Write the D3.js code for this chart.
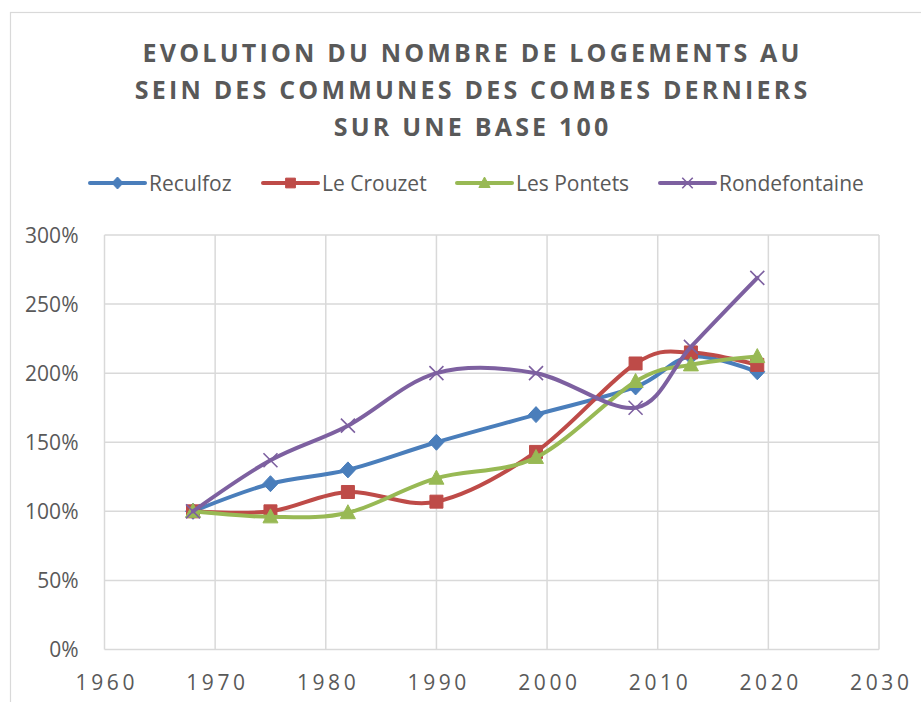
<!DOCTYPE html>
<html>
<head>
<meta charset="utf-8">
<script src="https://cdn.jsdelivr.net/npm/d3@7"></script>
<style>
    body { margin: 0; background: #fff; }
    svg { display: block; font-family: "Open Sans", "Liberation Sans", sans-serif; }
</style>
</head>
<body>
<div id="chart"></div>
<script>
"use strict";

var years = [1968, 1975, 1982, 1990, 1999, 2008, 2013, 2019];
var seriesNames = ["Reculfoz", "Le Crouzet", "Les Pontets", "Rondefontaine"];
var reculfoz = [1.00, 1.20, 1.30, 1.50, 1.70, 1.90, 2.12, 2.01];
var leCrouzet = [1.00, 1.00, 1.14, 1.07, 1.43, 2.07, 2.15, 2.06];
var lesPontets = [1.00, 0.96, 0.99, 1.24, 1.39, 1.94, 2.06, 2.12];
var rondefontaine = [1.00, 1.37, 1.62, 2.00, 2.00, 1.75, 2.19, 2.69];
var xTicks = [1960, 1970, 1980, 1990, 2000, 2010, 2020, 2030];
var yTicks = [0, 0.5, 1, 1.5, 2, 2.5, 3];
var titleLines = ["EVOLUTION DU NOMBRE DE LOGEMENTS AU", "SEIN DES COMMUNES DES COMBES DERNIERS", "SUR UNE BASE 100"];

var W = 921, H = 702,
    colors = ["#4a7ebb", "#be4b48", "#98b954", "#7d60a0"],
    markers = ["diamond", "square", "triangle", "cross"],
    textColor = "#595959",
    gridColor = "#d9d9d9";

var svg = d3.select("#chart")
    .append("svg")
    .attr("width", W)
    .attr("height", H);

// outer chart border, cut off on the right and bottom like the screenshot
svg.append("rect")
    .attr("x", 10.5).attr("y", 12.5)
    .attr("width", 930).attr("height", 720)
    .attr("fill", "none")
    .attr("stroke", gridColor)
    .attr("stroke-width", 1.2);

var x = d3.scaleLinear().domain([1960, 2030]).range([104.5, 879]),
    y = d3.scaleLinear().domain([0, 3]).range([649.5, 235]);

// title
svg.selectAll("text.title")
    .data(titleLines)
    .enter()
    .append("text")
    .attr("class", "title")
    .attr("x", 471)
    .attr("dx", 1.6)
    .attr("y", function (d, i) { return 62 + i * 36.8; })
    .attr("text-anchor", "middle")
    .attr("font-size", 25)
    .attr("font-weight", "bold")
    .attr("letter-spacing", 3.2)
    .attr("fill", textColor)
    .text(function (d) { return d; });

// gridlines
svg.append("g")
    .selectAll("line")
    .data(yTicks)
    .enter()
    .append("line")
    .attr("x1", x(1960)).attr("x2", x(2030))
    .attr("y1", function (d) { return y(d); })
    .attr("y2", function (d) { return y(d); })
    .attr("stroke", gridColor)
    .attr("stroke-width", 1.5);

svg.append("g")
    .selectAll("line")
    .data(xTicks)
    .enter()
    .append("line")
    .attr("x1", function (d) { return x(d); })
    .attr("x2", function (d) { return x(d); })
    .attr("y1", y(0)).attr("y2", y(3))
    .attr("stroke", gridColor)
    .attr("stroke-width", 1.5);

// axis labels
var yAxis = svg.append("g")
    .attr("transform", "translate(" + (x(1960) - 23) + ",0)")
    .call(d3.axisLeft(y).tickValues(yTicks).tickSize(0).tickFormat(d3.format(".0%")));
yAxis.select(".domain").remove();
yAxis.selectAll("text")
    .attr("font-size", 21)
    .attr("font-family", "\"Open Sans\", sans-serif")
    .attr("fill", textColor)
    .attr("dy", "0.35em");

var xAxis = svg.append("g")
    .attr("transform", "translate(0," + (y(0) + 23) + ")")
    .call(d3.axisBottom(x).tickValues(xTicks).tickSize(0).tickFormat(d3.format("d")));
xAxis.select(".domain").remove();
xAxis.selectAll("text")
    .attr("font-size", 21)
    .attr("font-family", "\"Open Sans\", sans-serif")
    .attr("letter-spacing", 3.6)
    .attr("dx", 1.8)
    .attr("fill", textColor)
    .attr("dy", "0.71em");

var markerPath = function (kind, k) {
    var p = d3.path();
    if (kind === "diamond") {
        p.moveTo(0, -8 * k); p.lineTo(7.5 * k, 0); p.lineTo(0, 8 * k); p.lineTo(-7.5 * k, 0); p.closePath();
    } else if (kind === "square") {
        p.rect(-6.5 * k, -6.5 * k, 13 * k, 13 * k);
    } else if (kind === "triangle") {
        p.moveTo(0, -8 * k); p.lineTo(7.5 * k, 6 * k); p.lineTo(-7.5 * k, 6 * k); p.closePath();
    } else {
        p.moveTo(-7 * k, -7 * k); p.lineTo(7 * k, 7 * k);
        p.moveTo(-7 * k, 7 * k); p.lineTo(7 * k, -7 * k);
    }
    return p.toString();
};

var drawMarker = function (g, kind, color, k) {
    var p = g.append("path").attr("d", markerPath(kind, k));
    if (kind === "cross") {
        p.attr("fill", "none").attr("stroke", color).attr("stroke-width", 1.6);
    } else {
        p.attr("fill", color).attr("stroke", color).attr("stroke-width", 1);
    }
};

var allSeries = [reculfoz, leCrouzet, lesPontets, rondefontaine];

// Excel style smoothed line
var line = d3.line()
    .x(function (d, i) { return x(years[i]); })
    .y(function (d) { return y(d); })
    .curve(d3.curveCardinal.tension(0));

allSeries.forEach(function (values, s) {
    var g = svg.append("g");
    g.append("path")
        .datum(values)
        .attr("d", line)
        .attr("fill", "none")
        .attr("stroke", colors[s])
        .attr("stroke-width", 4)
        .attr("stroke-linejoin", "round")
        .attr("stroke-linecap", "round");
    values.forEach(function (v, i) {
        var m = g.append("g").attr("transform", "translate(" + x(years[i]) + "," + y(v) + ")");
        drawMarker(m, markers[s], colors[s], 1);
    });
});

// legend
var legendX = [90, 263, 457, 660];
seriesNames.forEach(function (name, s) {
    var g = svg.append("g").attr("transform", "translate(" + legendX[s] + ",183)");
    g.append("line")
        .attr("x1", 0).attr("x2", 55)
        .attr("stroke", colors[s])
        .attr("stroke-width", 4)
        .attr("stroke-linecap", "round");
    var m = g.append("g").attr("transform", "translate(27.5,0)");
    drawMarker(m, markers[s], colors[s], 0.75);
    g.append("text")
        .attr("x", 59)
        .attr("dy", "0.36em")
        .attr("font-size", 21)
        .attr("fill", textColor)
        .text(name);
});
</script>
</body>
</html>
